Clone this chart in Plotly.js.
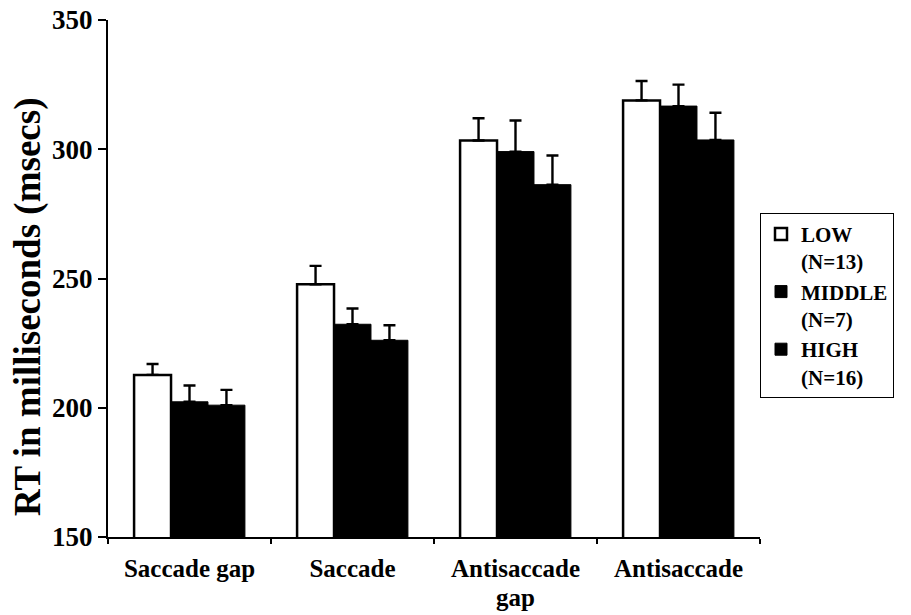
<!DOCTYPE html>
<html>
<head>
<meta charset="utf-8">
<script src="https://cdn.plot.ly/plotly-3.0.1.min.js"></script>
<style>html,body{margin:0;padding:0;background:#fff;}</style>
</head>
<body>
<div id="chart" style="width:911px;height:615px;"></div>
<script>
var categories = ["Saccade gap", "Saccade", "Antisaccade gap", "Antisaccade"];
var tickLine1 = ["Saccade gap", "Saccade", "Antisaccade", "Antisaccade"];
var tickLine2 = ["", "", "gap", ""];
var seriesNames = ["LOW<br>(N=13)", "MIDDLE<br>(N=7)", "HIGH<br>(N=16)"];
var lowValues = [212.7, 247.8, 303.4, 318.9];
var middleValues = [202.3, 232.3, 299.1, 316.7];
var highValues = [201.0, 226.1, 286.3, 303.6];
var lowErr = [4.2, 7.1, 8.6, 7.5];
var middleErr = [6.3, 6.1, 12.0, 8.3];
var highErr = [5.9, 5.8, 11.3, 10.5];
var yTicks = [150, 200, 250, 300, 350];
var yTitle = "RT in milliseconds (msecs)";

var font = "Liberation Serif";
function errObj(arr) {
  return {type: "data", array: arr, arrayminus: arr.map(function(){return 0;}), symmetric: false,
          color: "#000", thickness: 2.4, width: 6};
}
var traces = [
  {type: "bar", name: seriesNames[0], x: categories, y: lowValues,
   marker: {color: "#fff", line: {color: "#000", width: 2.5}}, error_y: errObj(lowErr)},
  {type: "bar", name: seriesNames[1], x: categories, y: middleValues,
   marker: {color: "#000", line: {color: "#000", width: 1}}, error_y: errObj(middleErr)},
  {type: "bar", name: seriesNames[2], x: categories, y: highValues,
   marker: {color: "#000", line: {color: "#000", width: 1}}, error_y: errObj(highErr)}
];
var annotations = [];
tickLine2.forEach(function(t, i) {
  if (t) {
    annotations.push({text: t, x: categories[i], xref: "x", y: 0, yref: "paper",
      yanchor: "top", yshift: -46, showarrow: false, borderpad: 0,
      font: {family: font, size: 25, color: "#000", weight: "bold"}});
  }
});
annotations.push({text: yTitle, textangle: -90, xref: "paper", x: 0, xanchor: "center",
  xshift: -80, yref: "paper", y: 0.445, yanchor: "middle", showarrow: false,
  font: {family: font, size: 37, color: "#000", weight: "bold"}});

var layout = {
  width: 911, height: 615,
  margin: {l: 108, r: 151, t: 20, b: 78},
  paper_bgcolor: "#fff", plot_bgcolor: "#fff",
  barmode: "group", bargap: 0.32, bargroupgap: 0,
  font: {family: font, color: "#000"},
  showlegend: true,
  legend: {x: 1.0, xanchor: "left", y: 0.627, yanchor: "top",
           bordercolor: "#000", borderwidth: 1, bgcolor: "#fff",
           font: {family: font, size: 21, color: "#000", weight: "bold"},
           itemwidth: 30, tracegroupgap: 0, valign: "top", entrywidth: 170},
  annotations: annotations,
  xaxis: {type: "category", showline: true, linecolor: "#000", linewidth: 2,
          ticks: "outside", tickson: "boundaries", ticklen: 5, tickwidth: 2, tickcolor: "#000",
          tickmode: "array", tickvals: categories, ticktext: tickLine1, ticklabelstandoff: 8,
          showgrid: false, zeroline: false,
          tickfont: {family: font, size: 25, color: "#000", weight: "bold"}},
  yaxis: {range: [150, 350], tickvals: yTicks, showline: true, linecolor: "#000", linewidth: 2,
          ticks: "outside", ticklen: 8, tickwidth: 2, tickcolor: "#000",
          showgrid: false, zeroline: false,
          tickfont: {family: font, size: 27, color: "#000", weight: "bold"}}
};
Plotly.newPlot("chart", traces, layout, {displayModeBar: false, staticPlot: true});
</script>
</body>
</html>
